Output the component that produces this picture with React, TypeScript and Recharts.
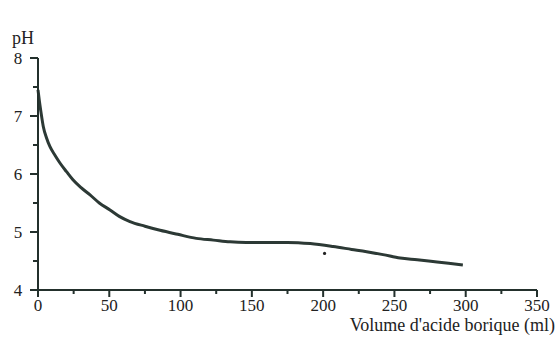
import { ComposedChart, Line, Scatter, XAxis, YAxis } from 'recharts'

const volume = [0, 1, 2, 3.7, 6, 8.4, 12, 15.4, 20, 24.5, 30, 36.5, 43, 50.5, 57, 64.5, 75, 85.6, 98, 111, 123, 134.7, 146, 158, 175, 191, 207, 220, 230.5, 242, 254, 266, 277, 288, 298]
const ph = [7.45, 7.25, 7.08, 6.82, 6.62, 6.47, 6.32, 6.19, 6.04, 5.9, 5.77, 5.64, 5.5, 5.38, 5.27, 5.18, 5.1, 5.03, 4.96, 4.89, 4.86, 4.83, 4.82, 4.82, 4.82, 4.8, 4.75, 4.7, 4.66, 4.61, 4.55, 4.52, 4.49, 4.46, 4.43]
const strayVolume = [201]
const strayPh = [4.63]

const xTicks = [0, 25, 50, 75, 100, 125, 150, 175, 200, 225, 250, 275, 300, 325, 350]
const yTicks = [4, 4.5, 5, 5.5, 6, 6.5, 7, 7.5, 8]

const curve = volume.map((v, i) => ({ v, ph: ph[i] }))
const stray = strayVolume.map((v, i) => ({ v, ph: strayPh[i] }))

const ink = '#23302c'
const font = '"Liberation Serif", "DejaVu Serif", serif'

// tick marks drawn in the tick renderer: long on labelled values, short in between
function XTick(props: any) {
  const x = Number(props.x)
  const y = Number(props.y)
  const value = Number(props.payload.value)
  const major = value % 50 === 0
  return (
    <g>
      <rect x={x - 1} y={y} width={2} height={major ? 7 : 4} fill={ink} />
      {major && (
        <text x={x} y={y + 21} textAnchor="middle" fontSize={17} fontFamily={font} fill="#222">
          {value}
        </text>
      )}
    </g>
  )
}

function YTick(props: any) {
  const x = Number(props.x)
  const y = Number(props.y)
  const value = Number(props.payload.value)
  const major = Number.isInteger(value)
  const len = major ? 8 : 5
  return (
    <g>
      <rect x={x - len} y={y - 1} width={len} height={2} fill={ink} />
      {major && (
        <text x={x - 20} y={y + 6} textAnchor="middle" fontSize={17} fontFamily={font} fill="#222">
          {value}
        </text>
      )}
    </g>
  )
}

export default function App() {
  return (
    <div style={{ position: 'absolute', left: 0, top: 0, width: 557, height: 360, background: '#fff' }}>
      <ComposedChart width={557} height={360} margin={{ top: 58, right: 20, left: 0, bottom: 0 }}>
        <XAxis
          dataKey="v"
          type="number"
          domain={[0, 350]}
          ticks={xTicks}
          interval={0}
          height={70}
          tickSize={0}
          tickMargin={0}
          tickLine={false}
          tick={<XTick />}
          axisLine={{ stroke: ink, strokeWidth: 2 }}
        />
        <YAxis
          dataKey="ph"
          type="number"
          domain={[4, 8]}
          ticks={yTicks}
          interval={0}
          width={38}
          tickSize={0}
          tickMargin={0}
          tickLine={false}
          tick={<YTick />}
          axisLine={{ stroke: ink, strokeWidth: 2 }}
        />
        <Line
          data={curve}
          dataKey="ph"
          type="monotone"
          stroke="#2c3935"
          strokeWidth={3}
          dot={false}
          isAnimationActive={false}
        />
        <Scatter data={stray} dataKey="ph" fill="#222" shape={(p: any) => <circle cx={p.cx} cy={p.cy} r={1.6} fill="#222" />} isAnimationActive={false} />
        <text x={12} y={44} fontSize={18} fontFamily={font} fill="#222">pH</text>
        <text x={555} y={331} textAnchor="end" fontSize={18} fontFamily={font} fill="#222">
          Volume d'acide borique (ml)
        </text>
      </ComposedChart>
    </div>
  )
}
